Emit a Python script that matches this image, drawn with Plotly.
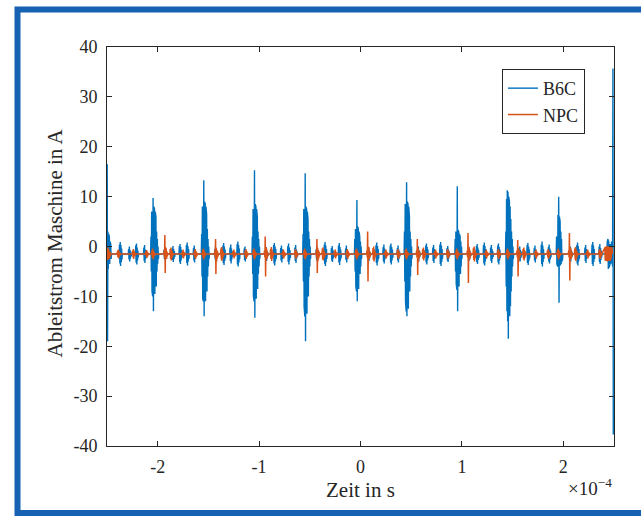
import plotly.graph_objects as go

# ---------------- data (time in microseconds, current in A) ----------------
DT_US = 0.35  # sample spacing inside each recorded segment

# B6C: large switching bursts
B6C_BURST_T0 = [-207, -157, -107, -57, -6, 43, 93, 143, 193]
B6C_BURST_VALS = [
    [-1.5, 2.0, -5.0, 7.0, -9.0, 8.0, -10.0, 9.7, -13.0, 8.0, -10.0, 7.5, -9.5, 7.0, -9.0, 6.0, -8.0, 3.0, -5.0, 1.5, -3.5, 0.0, -2.5, -1.5],
    [-1.5, 2.5, -6.0, 8.0, -10.5, 9.0, -11.0, 13.3, -14.0, 9.0, -11.5, 8.5, -11.0, 8.0, -10.5, 6.5, -9.0, 3.5, -6.0, 1.5, -4.0, 0.0, -2.5, -1.5],
    [-1.5, 2.0, -5.5, 7.5, -10.0, 8.0, -11.0, 15.3, -14.3, 8.5, -11.0, 8.0, -10.5, 7.5, -10.0, 6.0, -8.5, 3.0, -5.5, 1.5, -4.0, 0.0, -2.5, -1.5],
    [-1.5, 2.5, -7.0, 7.5, -12.0, 8.0, -14.0, 14.7, -19.0, 8.0, -14.0, 7.5, -13.5, 7.0, -12.5, 5.5, -10.0, 3.0, -6.0, 1.5, -4.0, 0.0, -2.5, -1.5],
    [-1.5, 1.5, -5.0, 3.5, -8.0, 4.0, -9.0, 9.3, -11.0, 4.0, -9.0, 3.5, -8.5, 3.0, -7.5, 2.0, -5.5, 1.0, -4.0, 0.0, -2.5, -1.5],
    [-1.5, 3.0, -7.0, 8.5, -11.0, 9.3, -13.0, 12.9, -14.0, 9.0, -13.0, 8.5, -12.5, 8.0, -11.5, 6.0, -9.0, 3.0, -6.0, 1.5, -4.0, 0.0, -2.5, -1.5],
    [-1.5, 1.5, -5.0, 3.0, -7.5, 3.3, -8.7, 12.1, -13.0, 3.3, -8.5, 3.0, -8.0, 2.5, -7.0, 2.0, -5.5, 1.0, -4.0, 0.0, -2.5, -1.5],
    [-1.5, 3.0, -8.0, 9.5, -13.0, 11.3, -15.0, 11.0, -18.5, 10.0, -15.0, 9.0, -14.0, 8.0, -12.0, 5.5, -9.0, 3.0, -6.0, 1.5, -4.0, 0.0, -2.5, -1.5],
    [-1.5, 2.0, -3.5, 5.0, -4.0, 6.3, -4.0, 10.0, -11.3, 6.0, -4.0, 5.0, -3.8, 3.0, -3.5, 1.5, -3.0, 0.0, -2.5, -1.5],
]

# B6C: small ringing packets and the two window edges
B6C_PKT_T0 = [-249.8, -238, -229, -222, -214,
              -194, -186, -179, -172, -165,
              -144, -136, -129, -122, -115,
              -94, -86, -79, -72, -65,
              -44, -36, -29, -22, -15,
              7, 15, 22, 29, 36,
              56, 64, 71, 78, 85,
              106, 114, 121, 128, 135,
              156, 164, 171, 178, 185,
              206, 213, 221, 228, 235, 243]
B6C_PKT_VALS = [
    [16.5, -19.0, 3.0, -4.5, 2.5, -4.0, 2.0, -3.5, 1.0, -3.0, 0.5, -2.5, -1.5],
    [-1.5, 0.4, -3.4, 0.9, -3.9, 0.3, -3.1, -0.4, -2.6, -1.5],
    [-1.5, -0.5, -2.6, 0.0, -3.0, -0.7, -2.4, -1.0, -2.0, -1.5],
    [-1.5, 0.2, -3.2, 0.6, -3.6, -0.2, -2.8, -0.8, -2.2, -1.5],
    [-1.5, -0.2, -2.9, 0.3, -3.3, -0.6, -2.5, -1.0, -2.0, -1.5],
    [-1.5, -0.6, -2.5, -0.2, -2.8, -0.7, -2.3, -1.0, -1.9, -1.5],
    [-1.5, -0.4, -2.7, 0.1, -3.1, -0.5, -2.5, -0.9, -2.1, -1.5],
    [-1.5, 0.1, -3.1, 0.5, -3.5, -0.1, -2.8, -0.7, -2.3, -1.5],
    [-1.5, 0.3, -3.3, 0.8, -3.8, 0.1, -3.0, -0.5, -2.5, -1.5],
    [-1.5, -0.3, -2.8, 0.2, -3.2, -0.6, -2.4, -1.0, -2.0, -1.5],
    [-1.5, -0.5, -2.6, -0.1, -2.9, -0.8, -2.2, -1.1, -1.9, -1.5],
    [-1.5, 0.2, -3.3, 0.7, -3.7, 0.0, -2.9, -0.6, -2.4, -1.5],
    [-1.5, -0.2, -2.9, 0.4, -3.4, -0.4, -2.6, -0.9, -2.1, -1.5],
    [-1.5, 0.5, -3.6, 1.0, -4.0, 0.3, -3.2, -0.4, -2.6, -1.5],
    [-1.5, -0.4, -2.7, 0.0, -3.0, -0.7, -2.3, -1.0, -2.0, -1.5],
    [-1.5, -0.6, -2.5, -0.1, -2.9, -0.8, -2.2, -1.1, -1.9, -1.5],
    [-1.5, 0.3, -3.4, 0.7, -3.8, 0.0, -3.0, -0.5, -2.5, -1.5],
    [-1.5, -0.3, -2.8, 0.2, -3.2, -0.5, -2.5, -0.9, -2.1, -1.5],
    [-1.5, 0.1, -3.1, 0.6, -3.6, -0.2, -2.8, -0.7, -2.3, -1.5],
    [-1.5, -0.2, -2.9, 0.3, -3.3, -0.6, -2.4, -1.0, -2.0, -1.5],
    [-1.5, -0.5, -2.6, 0.0, -3.0, -0.7, -2.3, -1.0, -1.9, -1.5],
    [-1.5, 0.4, -3.5, 0.9, -3.9, 0.2, -3.1, -0.5, -2.5, -1.5],
    [-1.5, -0.3, -2.8, 0.1, -3.1, -0.6, -2.4, -1.0, -2.0, -1.5],
    [-1.5, 0.2, -3.2, 0.7, -3.7, -0.1, -2.9, -0.6, -2.4, -1.5],
    [-1.5, -0.4, -2.7, 0.2, -3.2, -0.5, -2.5, -0.9, -2.1, -1.5],
    [-1.5, -0.6, -2.5, -0.1, -2.9, -0.8, -2.2, -1.1, -1.9, -1.5],
    [-1.5, 0.3, -3.3, 0.8, -3.8, 0.1, -3.0, -0.5, -2.5, -1.5],
    [-1.5, -0.1, -3.0, 0.4, -3.4, -0.4, -2.6, -0.8, -2.2, -1.5],
    [-1.5, 0.2, -3.2, 0.6, -3.6, -0.1, -2.8, -0.6, -2.3, -1.5],
    [-1.5, -0.3, -2.8, 0.2, -3.2, -0.6, -2.4, -1.0, -2.0, -1.5],
    [-1.5, -0.5, -2.6, 0.0, -3.0, -0.7, -2.3, -1.0, -2.0, -1.5],
    [-1.5, 0.2, -3.2, 0.6, -3.6, -0.1, -2.8, -0.6, -2.3, -1.5],
    [-1.5, -0.2, -2.9, 0.3, -3.3, -0.5, -2.5, -0.9, -2.1, -1.5],
    [-1.5, 0.4, -3.5, 0.9, -3.9, 0.2, -3.1, -0.5, -2.5, -1.5],
    [-1.5, -0.3, -2.8, 0.1, -3.1, -0.6, -2.4, -1.0, -2.0, -1.5],
    [-1.5, -0.6, -2.5, -0.2, -2.8, -0.8, -2.2, -1.1, -1.9, -1.5],
    [-1.5, 0.1, -3.1, 0.5, -3.5, -0.2, -2.7, -0.7, -2.3, -1.5],
    [-1.5, 0.3, -3.4, 0.8, -3.8, 0.1, -3.0, -0.5, -2.5, -1.5],
    [-1.5, -0.2, -2.9, 0.3, -3.3, -0.5, -2.5, -0.9, -2.1, -1.5],
    [-1.5, 0.2, -3.2, 0.6, -3.6, -0.1, -2.8, -0.6, -2.3, -1.5],
    [-1.5, -0.5, -2.6, 0.0, -3.0, -0.7, -2.3, -1.0, -2.0, -1.5],
    [-1.5, 0.3, -3.3, 0.7, -3.7, 0.0, -2.9, -0.6, -2.4, -1.5],
    [-1.5, -0.3, -2.8, 0.2, -3.2, -0.6, -2.4, -1.0, -2.0, -1.5],
    [-1.5, 0.4, -3.5, 1.0, -4.0, 0.2, -3.1, -0.5, -2.5, -1.5],
    [-1.5, -0.1, -3.0, 0.4, -3.4, -0.4, -2.6, -0.8, -2.2, -1.5],
    [-1.5, -0.5, -2.6, 0.0, -3.0, -0.7, -2.3, -1.0, -2.0, -1.5],
    [-1.5, 0.3, -3.4, 0.8, -3.8, 0.1, -3.0, -0.5, -2.5, -1.5],
    [-1.5, -0.2, -2.9, 0.3, -3.3, -0.5, -2.5, -0.9, -2.1, -1.5],
    [-1.5, 0.4, -3.5, 0.9, -3.9, 0.2, -3.1, -0.5, -2.5, -1.5],
    [-1.5, 0.0, -3.1, 0.5, -3.5, -0.3, -2.7, -0.8, -2.2, -1.5],
    [-1.5, 1.0, -4.0, 1.5, -4.5, 1.2, -4.2, 0.8, -3.8, 0.5, -3.5, 0.3, -3.2, 1.0, -4.0, 0.8, -4.0, 35.7, -37.7],
]

# NPC: switching spikes
NPC_SPIKE_T0 = [-194, -144, -95, -44, 6, 55, 105, 154, 205]
NPC_SPIKE_VALS = [
    [-1.5, -0.8, -2.2, 2.3, -5.3, -0.2, -3.0, -0.6, -2.5, -1.0, -2.0, -1.5],
    [-1.5, -0.8, -2.2, 1.5, -5.5, -0.3, -3.0, -0.7, -2.4, -1.0, -2.0, -1.5],
    [-1.5, -0.8, -2.2, 2.0, -6.0, -0.2, -3.1, -0.6, -2.5, -1.0, -2.0, -1.5],
    [-1.5, -0.8, -2.2, 1.5, -5.3, -0.3, -2.9, -0.7, -2.4, -1.0, -2.0, -1.5],
    [-1.5, -0.8, -2.2, 3.0, -7.0, -0.1, -3.2, -0.6, -2.5, -1.0, -2.0, -1.5],
    [-1.5, -0.8, -2.2, 1.5, -5.7, -0.3, -3.0, -0.7, -2.4, -1.0, -2.0, -1.5],
    [-1.5, -0.8, -2.2, 2.7, -7.3, -0.1, -3.2, -0.6, -2.5, -1.0, -2.0, -1.5],
    [-1.5, -0.8, -2.2, 1.3, -6.0, -0.3, -3.0, -0.7, -2.4, -1.0, -2.0, -1.5],
    [-1.5, -0.8, -2.2, 2.7, -6.8, -0.2, -3.1, -0.6, -2.5, -1.0, -2.0, -1.5],
]

# NPC: small ringing packets and the two window edges
NPC_PKT_T0 = [-249.8, -240, -225, -212,
              -206, -188, -176, -164,
              -156, -138, -126, -114,
              -106, -89, -77, -65,
              -56, -38, -26, -14,
              -5, 12, 24, 36,
              44, 61, 73, 85,
              94, 111, 123, 135,
              144, 160, 172, 184,
              194, 211, 223, 235, 241]
NPC_PKT_VALS = [
    [-0.3, -2.7, -0.2, -2.6, -0.5, -2.4, -0.7, -2.2, -1.0, -2.0, -1.5],
    [-1.5, -0.9, -2.1, -0.6, -2.4, -0.9, -2.1, -1.2, -1.8, -1.5],
    [-1.5, -0.8, -2.2, -0.5, -2.5, -0.9, -2.0, -1.2, -1.8, -1.5],
    [-1.5, -1.0, -2.0, -0.7, -2.3, -1.0, -2.0, -1.3, -1.7, -1.5],
    [-1.5, -0.7, -2.3, -0.4, -2.6, -0.8, -2.2, -1.1, -1.9, -1.5],
    [-1.5, -0.5, -2.5, -0.2, -2.8, -0.7, -2.3, -1.0, -2.0, -1.5],
    [-1.5, -0.9, -2.1, -0.6, -2.4, -1.0, -2.0, -1.2, -1.8, -1.5],
    [-1.5, -0.8, -2.2, -0.5, -2.5, -0.9, -2.1, -1.2, -1.8, -1.5],
    [-1.5, -0.7, -2.3, -0.4, -2.6, -0.8, -2.2, -1.1, -1.9, -1.5],
    [-1.5, -0.4, -2.6, -0.1, -2.9, -0.6, -2.4, -1.0, -2.0, -1.5],
    [-1.5, -0.9, -2.1, -0.6, -2.4, -1.0, -2.0, -1.2, -1.8, -1.5],
    [-1.5, -0.8, -2.2, -0.5, -2.5, -0.9, -2.1, -1.2, -1.8, -1.5],
    [-1.5, -0.7, -2.3, -0.4, -2.6, -0.8, -2.2, -1.1, -1.9, -1.5],
    [-1.5, -0.5, -2.5, -0.1, -2.9, -0.6, -2.4, -1.0, -2.0, -1.5],
    [-1.5, -0.9, -2.1, -0.6, -2.4, -1.0, -2.0, -1.2, -1.8, -1.5],
    [-1.5, -0.8, -2.2, -0.5, -2.5, -0.9, -2.1, -1.2, -1.8, -1.5],
    [-1.5, -0.7, -2.3, -0.4, -2.6, -0.8, -2.2, -1.1, -1.9, -1.5],
    [-1.5, -0.4, -2.6, -0.2, -2.8, -0.7, -2.3, -1.0, -2.0, -1.5],
    [-1.5, -0.9, -2.1, -0.6, -2.4, -1.0, -2.0, -1.2, -1.8, -1.5],
    [-1.5, -0.8, -2.2, -0.5, -2.5, -0.9, -2.1, -1.2, -1.8, -1.5],
    [-1.5, -0.7, -2.3, -0.4, -2.6, -0.8, -2.2, -1.1, -1.9, -1.5],
    [-1.5, -0.3, -2.7, 0.0, -3.0, -0.6, -2.4, -1.0, -2.0, -1.5],
    [-1.5, -0.9, -2.1, -0.6, -2.4, -1.0, -2.0, -1.2, -1.8, -1.5],
    [-1.5, -0.8, -2.2, -0.5, -2.5, -0.9, -2.1, -1.2, -1.8, -1.5],
    [-1.5, -0.7, -2.3, -0.4, -2.6, -0.8, -2.2, -1.1, -1.9, -1.5],
    [-1.5, -0.5, -2.5, -0.2, -2.8, -0.7, -2.3, -1.0, -2.0, -1.5],
    [-1.5, -0.9, -2.1, -0.6, -2.4, -1.0, -2.0, -1.2, -1.8, -1.5],
    [-1.5, -0.8, -2.2, -0.5, -2.5, -0.9, -2.1, -1.2, -1.8, -1.5],
    [-1.5, -0.7, -2.3, -0.4, -2.6, -0.8, -2.2, -1.1, -1.9, -1.5],
    [-1.5, -0.3, -2.7, 0.0, -3.0, -0.6, -2.4, -1.0, -2.0, -1.5],
    [-1.5, -0.9, -2.1, -0.6, -2.4, -1.0, -2.0, -1.2, -1.8, -1.5],
    [-1.5, -0.8, -2.2, -0.5, -2.5, -0.9, -2.1, -1.2, -1.8, -1.5],
    [-1.5, -0.7, -2.3, -0.4, -2.6, -0.8, -2.2, -1.1, -1.9, -1.5],
    [-1.5, -0.5, -2.5, -0.2, -2.8, -0.7, -2.3, -1.0, -2.0, -1.5],
    [-1.5, -0.9, -2.1, -0.6, -2.4, -1.0, -2.0, -1.2, -1.8, -1.5],
    [-1.5, -0.8, -2.2, -0.5, -2.5, -0.9, -2.1, -1.2, -1.8, -1.5],
    [-1.5, -0.7, -2.3, -0.4, -2.6, -0.8, -2.2, -1.1, -1.9, -1.5],
    [-1.5, -0.4, -2.6, -0.1, -2.9, -0.6, -2.4, -1.0, -2.0, -1.5],
    [-1.5, -0.9, -2.1, -0.6, -2.4, -1.0, -2.0, -1.2, -1.8, -1.5],
    [-1.5, -0.8, -2.2, -0.5, -2.5, -0.9, -2.1, -1.2, -1.8, -1.5],
    [-0.2, -2.8, 0.0, -2.9, -0.1, -2.8, 0.1, -3.0, 0.0, -2.9, -0.2, -2.7, 0.0, -2.8, 0.1, -2.9, -0.1, -2.6, -0.3, -2.5, -0.2, -1.5],
]

X_TICKS = [-2, -1, 0, 1, 2]          # in units of 1e-4 s
Y_TICKS = [-40, -30, -20, -10, 0, 10, 20, 30, 40]


def build(t0_lists, val_lists):
    segs = []
    for t0s, vals in zip(t0_lists, val_lists):
        segs.extend(zip(t0s, vals))
    segs.sort(key=lambda s: s[0])
    xs, ys = [], []
    for t0, vals in segs:
        for i, v in enumerate(vals):
            xs.append((t0 + i * DT_US) * 1e-6)
            ys.append(v)
    return xs, ys


bx, by = build([B6C_BURST_T0, B6C_PKT_T0], [B6C_BURST_VALS, B6C_PKT_VALS])
nx, ny = build([NPC_SPIKE_T0, NPC_PKT_T0], [NPC_SPIKE_VALS, NPC_PKT_VALS])

FONT = "Liberation Serif"
TXT = "#262626"

fig = go.Figure()
fig.add_trace(go.Scatter(x=bx, y=by, mode="lines", name="B6C",
                         line=dict(color="#0072BD", width=1.4)))
fig.add_trace(go.Scatter(x=nx, y=ny, mode="lines", name="NPC",
                         line=dict(color="#D95319", width=1.5)))

fig.update_layout(
    width=641, height=517,
    margin=dict(l=107, r=27, t=47, b=71, pad=0),
    paper_bgcolor="white", plot_bgcolor="white",
    font=dict(family=FONT, color=TXT, size=18),
    showlegend=True,
    legend=dict(x=0.779, y=0.945, xanchor="left", yanchor="top",
                bordercolor=TXT, borderwidth=1, bgcolor="white",
                font=dict(family=FONT, size=18, color=TXT),
                tracegroupgap=0, itemwidth=30),
    xaxis=dict(range=[-2.5e-4, 2.5e-4], tickvals=[v * 1e-4 for v in X_TICKS],
               ticktext=[str(v) for v in X_TICKS],
               ticks="inside", ticklen=5, tickcolor=TXT, showline=True,
               linecolor=TXT, linewidth=1, mirror="allticks", showgrid=False,
               zeroline=False, ticklabelstandoff=4,
               tickfont=dict(family=FONT, size=18, color=TXT)),
    yaxis=dict(range=[-40, 40], tickvals=Y_TICKS,
               ticktext=[str(v) for v in Y_TICKS],
               ticks="inside", ticklen=5, tickcolor=TXT, showline=True,
               linecolor=TXT, linewidth=1, mirror="allticks", showgrid=False,
               zeroline=False, ticklabelstandoff=5,
               tickfont=dict(family=FONT, size=18, color=TXT)),
    annotations=[
        dict(text="Zeit in s", xref="paper", yref="paper", x=0.5, y=-0.110,
             xanchor="center", yanchor="middle", showarrow=False,
             font=dict(family=FONT, size=21, color=TXT)),
        dict(text="Ableitstrom Maschine in A", xref="paper", yref="paper",
             x=-0.1026, y=0.51, xanchor="center", yanchor="middle",
             textangle=-90, showarrow=False,
             font=dict(family=FONT, size=21, color=TXT)),
        dict(text="\u00d710<sup>\u22124</sup>", xref="paper", yref="paper",
             x=1.0, y=-0.103, xanchor="right", yanchor="middle",
             showarrow=False, font=dict(family=FONT, size=19, color=TXT)),
    ],
    shapes=[
        dict(type="rect", xref="paper", yref="paper",
             x0=(17.5 - 107) / 507, x1=(648 - 107) / 507,
             y0=(446 - 513) / 399, y1=(446 - 9.5) / 399,
             line=dict(color="#1661b1", width=6), fillcolor="rgba(0,0,0,0)",
             layer="above"),
    ],
)

fig.write_html("out.html")
